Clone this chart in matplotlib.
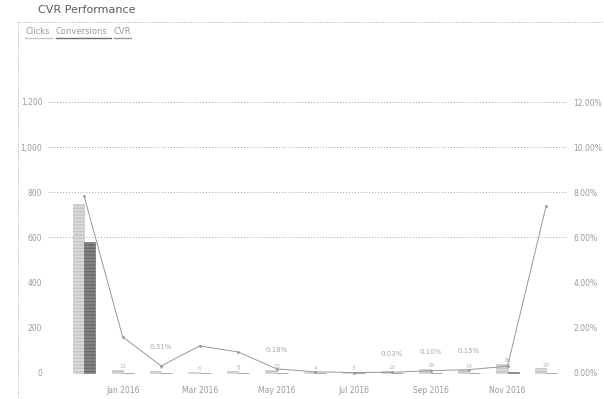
import matplotlib
matplotlib.use("Agg")
import matplotlib.pyplot as plt
from matplotlib.lines import Line2D

# Monthly campaign figures
months = ["Dec 2015", "Jan 2016", "Feb 2016", "Mar 2016", "Apr 2016", "May 2016",
          "Jun 2016", "Jul 2016", "Aug 2016", "Sep 2016", "Oct 2016", "Nov 2016", "Dec 2016"]
clicks = [747, 12, 9, 6, 8, 15, 4, 3, 10, 18, 14, 38, 20]
conversions = [582, 1, 1, 0, 1, 1, 0, 0, 1, 2, 1, 3, 2]
cvr = [7.82, 1.60, 0.31, 1.20, 0.93, 0.18, 0.05, 0.02, 0.03, 0.10, 0.15, 0.30, 7.38]
cvr_labelled = [2, 5, 8, 9, 10]

left_ticks = [0, 200, 400, 600, 800, 1000, 1200]
right_ticks = [0, 2, 4, 6, 8, 10, 12]
grid_levels = [600, 800, 1000, 1200]

TXT = "#9a9a9a"
W, H = 604, 399
fig = plt.figure(figsize=(W / 100, H / 100), dpi=100)

ax_l, ax_r, ax_t, ax_b = 48, 568, 60, 382
ax = fig.add_axes([ax_l / W, 1 - ax_b / H, (ax_r - ax_l) / W, (ax_b - ax_t) / H])
ax2 = ax.twinx()

x = list(range(len(months)))
bw = 0.29
ax.bar([i - bw / 2 for i in x], clicks, width=bw, color="#dadada",
       edgecolor="#c4c4c4", linewidth=0.4, hatch="-----", zorder=2)
ax.bar([i + bw / 2 for i in x], conversions, width=bw, color="#858585",
       edgecolor="#6a6a6a", linewidth=0.4, hatch="-----", zorder=2)
for i in x[1:]:
    ax.text(i, clicks[i] + 4, f"{clicks[i]}", ha="center", va="bottom",
            fontsize=4, color="#b5b5b5", zorder=3)

ax.set_xlim(-0.94, 12.57)
ax.set_ylim(-40, 1386)
ax.set_yticks(left_ticks)
ax.set_yticklabels([f"{v:,}" for v in left_ticks], fontsize=5.5, color=TXT)
for g in grid_levels:
    ax.axhline(g, linestyle=(0, (1, 2)), color="#a0a0a0", linewidth=0.7, zorder=0)

ax2.plot(x, cvr, color="#999999", linewidth=0.7, marker="o", markersize=1.0, zorder=4)
for i in cvr_labelled:
    ax2.annotate(f"{cvr[i]:.2f}%", (i, cvr[i]), xytext=(0, 12), textcoords="offset points",
                 ha="center", fontsize=5, color="#a8a8a8")
ax2.set_ylim(-0.4, 13.86)
ax2.set_yticks(right_ticks)
ax2.set_yticklabels([f"{v:.2f}%" for v in right_ticks], fontsize=5.5, color=TXT)

ax.set_xticks(x)
ax.set_xticklabels([m if i % 2 == 1 else "" for i, m in enumerate(months)],
                   fontsize=5.5, color=TXT)

for a in (ax, ax2):
    for s in a.spines.values():
        s.set_visible(False)
    a.tick_params(length=0, pad=3)
ax.tick_params(axis="y", pad=4)
ax2.tick_params(axis="y", pad=4)

# Title, legend and dotted frame
fig.text(38 / W, 1 - 10 / H, "CVR Performance", fontsize=8, color="#5a5a5a", va="center")
fig.add_artist(Line2D([18 / W, 1], [1 - 22 / H] * 2, transform=fig.transFigure,
                      color="#aaaaaa", linewidth=0.7, linestyle=(0, (1, 1.5))))
fig.add_artist(Line2D([18 / W] * 2, [1 - 22 / H, 0], transform=fig.transFigure,
                      color="#aaaaaa", linewidth=0.7, linestyle=(0, (1, 1.5))))

legend_items = [("Clicks", 25, 27, "#c8c8c8"), ("Conversions", 56, 55, "#6e6e6e"),
                ("CVR", 114, 17, "#9a9a9a")]
for label, lx, width, col in legend_items:
    fig.text(lx / W, 1 - 31 / H, label, fontsize=6, color=TXT, va="center")
    fig.add_artist(Line2D([lx / W, (lx + width) / W], [1 - 38 / H] * 2,
                          transform=fig.transFigure, color=col, linewidth=1.0))

fig.savefig("out.png", dpi=100)
